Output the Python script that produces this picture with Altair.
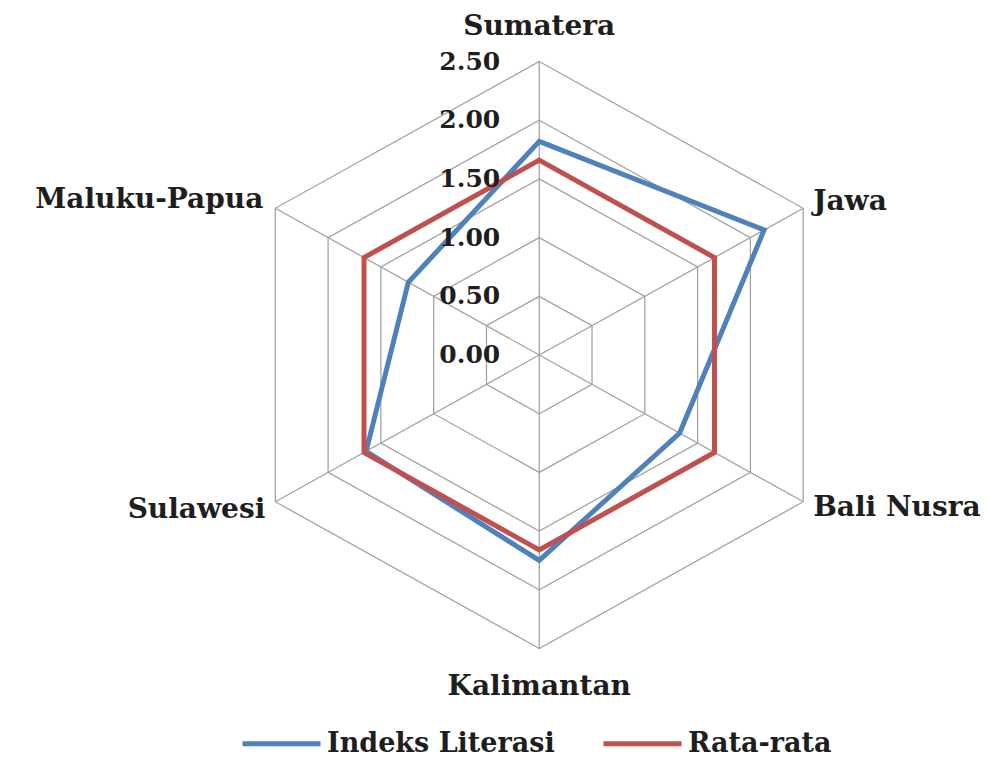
import altair as alt
import numpy as np
import pandas as pd

# ---- data ----
categories = ["Sumatera", "Jawa", "Bali Nusra", "Kalimantan", "Sulawesi", "Maluku-Papua"]
indeks_literasi = [1.82, 2.13, 1.33, 1.75, 1.64, 1.24]
rata_rata = [1.66, 1.66, 1.66, 1.66, 1.66, 1.66]
series_names = ["Indeks Literasi", "Rata-rata"]
tick_values = [0.0, 0.5, 1.0, 1.5, 2.0, 2.5]
tick_labels = ["0.00", "0.50", "1.00", "1.50", "2.00", "2.50"]

BLUE = "#4F81BD"
RED = "#C0504D"
GRID = "#A3A3A3"
TEXT = "#1E1E1E"
FONT = "DejaVu Serif"

n = len(categories)
angles = np.arange(n) * 2 * np.pi / n


def polar_x(r, i):
    return float(r * np.sin(angles[i]))


def polar_y(r, i):
    return float(r * np.cos(angles[i]))


series_rows = []
for name, vals in zip(series_names, [indeks_literasi, rata_rata]):
    for i, v in enumerate(vals):
        series_rows.append({"series": name, "category": categories[i], "idx": i,
                            "value": v, "x": polar_x(v, i), "y": polar_y(v, i)})
series_df = pd.DataFrame(series_rows)

rmax = tick_values[-1]
ring_df = pd.DataFrame([{"ring": t, "idx": i, "x": polar_x(t, i), "y": polar_y(t, i)}
                        for t in tick_values[1:] for i in range(n)])
spoke_df = pd.DataFrame({"category": categories,
                         "x": [0.0] * n, "y": [0.0] * n,
                         "x2": [polar_x(rmax, i) for i in range(n)],
                         "y2": [polar_y(rmax, i) for i in range(n)]})
tick_df = pd.DataFrame({"label": tick_labels, "x": [0.0] * len(tick_values), "y": tick_values})
label_df = pd.DataFrame({"category": categories,
                         "x": [polar_x(rmax, i) for i in range(n)],
                         "y": [polar_y(rmax, i) for i in range(n)]})

xs = alt.Scale(domain=[-4.358, 3.632], nice=False, zero=False)
ys = alt.Scale(domain=[-3.433, 2.956], nice=False, zero=False)
X = alt.X("x:Q", scale=xs, axis=None)
Y = alt.Y("y:Q", scale=ys, axis=None)

rings = alt.Chart(ring_df).mark_line(
    interpolate="linear-closed", color=GRID, strokeWidth=1.3
).encode(x=X, y=Y, detail="ring:N", order="idx:Q")

spokes = alt.Chart(spoke_df).mark_rule(color=GRID, strokeWidth=1.3).encode(
    x=X, y=Y, x2="x2:Q", y2="y2:Q")

color = alt.Color(
    "series:N",
    scale=alt.Scale(domain=series_names, range=[BLUE, RED]),
    legend=alt.Legend(
        title=None, orient="none", legendX=232, legendY=694, direction="horizontal",
        symbolType="stroke", symbolSize=6084, symbolStrokeWidth=5,
        labelFont=FONT, labelFontSize=27, labelFontWeight="bold", labelColor=TEXT,
        labelOffset=4, columnPadding=38, labelLimit=0, padding=0,
    ),
)

series_layers = []
for name in series_names:
    series_layers.append(
        alt.Chart(series_df).transform_filter(alt.datum.series == name).mark_line(
            interpolate="linear-closed", strokeWidth=5, strokeJoin="miter"
        ).encode(x=X, y=Y, color=color, order="idx:Q")
    )

ticks = alt.Chart(tick_df).mark_text(
    align="right", baseline="middle", dx=-39, font=FONT, fontSize=25,
    fontWeight="bold", color=TEXT
).encode(x=X, y=Y, text="label:N")

label_style = {
    "Sumatera": ("center", 0, -35),
    "Jawa": ("left", 10, -6),
    "Bali Nusra": ("left", 10, 6),
    "Kalimantan": ("center", 0, 39),
    "Sulawesi": ("right", -10, 8),
    "Maluku-Papua": ("right", -12, -8),
}
label_layers = []
for cat in categories:
    al, dx, dy = label_style[cat]
    label_layers.append(
        alt.Chart(label_df).transform_filter(alt.datum.category == cat).mark_text(
            align=al, baseline="middle", dx=dx, dy=dy, font=FONT, fontSize=28,
            fontWeight="bold", color=TEXT
        ).encode(x=X, y=Y, text="category:N")
    )

chart = alt.layer(rings, spokes, *series_layers, ticks, *label_layers).properties(
    width=974, height=750, padding=0, autosize="none", background="white"
).configure_view(stroke=None)

chart.save("out.html", embed_options={"renderer": "svg", "actions": False})
